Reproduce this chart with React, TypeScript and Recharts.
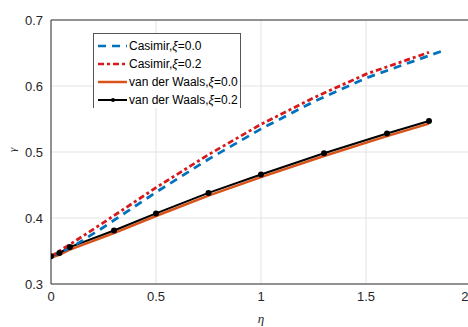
import { CartesianGrid, Line, LineChart, ReferenceLine, XAxis, YAxis } from "recharts";

const ETA_CAS = [0, 0.1, 0.25, 0.5, 0.75, 1.0, 1.25, 1.5, 1.8];
const CAS_XI0 = [0.342, 0.356, 0.386, 0.439, 0.489, 0.535, 0.576, 0.612, 0.646];
const CAS_XI2 = [0.342, 0.362, 0.393, 0.446, 0.496, 0.542, 0.582, 0.618, 0.651];
const CAS_XI0_TAIL = { eta: 1.88, value: 0.655 };

const ETA_VDW = [0, 0.04, 0.09, 0.3, 0.5, 0.75, 1.0, 1.3, 1.6, 1.8];
const VDW_XI0 = [0.34, 0.344, 0.352, 0.377, 0.403, 0.434, 0.462, 0.494, 0.524, 0.543];
const VDW_XI2 = [0.342, 0.347, 0.356, 0.381, 0.407, 0.438, 0.466, 0.498, 0.528, 0.547];

const X_TICKS = [0, 0.5, 1, 1.5, 2];
const Y_TICKS = [0.3, 0.4, 0.5, 0.6, 0.7];

const cas0 = [
  ...ETA_CAS.map((eta, i) => ({ eta, value: CAS_XI0[i] })),
  CAS_XI0_TAIL,
];
const cas2 = ETA_CAS.map((eta, i) => ({ eta, value: CAS_XI2[i] }));
const vdw0 = ETA_VDW.map((eta, i) => ({ eta, value: VDW_XI0[i] }));
const vdw2 = ETA_VDW.map((eta, i) => ({ eta, value: VDW_XI2[i] }));

const LEGEND = [
  { name: "Casimir,", xi: "0.0", color: "#0072BD", dash: "8 6" },
  { name: "Casimir,", xi: "0.2", color: "#D7191C", dash: "6 3 3 3" },
  { name: "van der Waals,", xi: "0.0", color: "#D95319", dash: undefined },
  { name: "van der Waals,", xi: "0.2", color: "#000000", dash: undefined, dot: true },
];

function LegendBox() {
  return (
    <div
      style={{
        position: "absolute",
        left: 93,
        top: 33,
        width: 148,
        height: 75,
        borderTop: "1px solid #555",
        borderLeft: "1px solid #555",
        borderRight: "1px solid #555",
        background: "#fff",
        boxSizing: "border-box",
        paddingTop: 3,
        fontFamily: "Liberation Sans, Arial, sans-serif",
        fontSize: 12,
        color: "#000",
      }}
    >
      {LEGEND.map((item, i) => (
        <div key={i} style={{ display: "flex", alignItems: "center", height: 18 }}>
          <svg width={32} height={10} style={{ marginLeft: 3 }}>
            <line
              x1={1}
              y1={5}
              x2={30}
              y2={5}
              stroke={item.color}
              strokeWidth={item.dot ? 2 : 2.5}
              strokeDasharray={item.dash}
            />
            {item.dot && <circle cx={16} cy={5} r={2} fill="#000" />}
          </svg>
          <span>
            {item.name}
            <i>ξ</i>={item.xi}
          </span>
        </div>
      ))}
    </div>
  );
}

export default function App() {
  return (
    <div style={{ position: "absolute", left: 0, top: 0, width: 468, height: 327, background: "#fff" }}>
      <LineChart
        width={468}
        height={327}
        margin={{ top: 20, right: -3, bottom: 0, left: 0 }}
      >
        <CartesianGrid stroke="#e3e3e3" strokeWidth={1} />
        <XAxis
          type="number"
          dataKey="eta"
          domain={[0, 2]}
          ticks={X_TICKS}
          allowDataOverflow
          height={43}
          tickLine={false}
          axisLine={{ stroke: "#333" }}
          tick={{ fill: "#262626", fontSize: 13, fontFamily: "Liberation Sans, Arial" }}
          tickFormatter={(v: number) => String(v)}
          label={{
            value: "η",
            position: "insideBottom",
            offset: 4,
            fill: "#262626",
            fontSize: 13,
            fontStyle: "italic",
            fontFamily: "Liberation Serif, serif",
          }}
        />
        <YAxis
          type="number"
          dataKey="value"
          domain={[0.3, 0.7]}
          ticks={Y_TICKS}
          width={51}
          tickLine={false}
          axisLine={{ stroke: "#333" }}
          tick={{ fill: "#262626", fontSize: 13, fontFamily: "Liberation Sans, Arial" }}
          tickFormatter={(v: number) => v.toFixed(1)}
          label={{
            value: "γ",
            angle: -90,
            position: "insideLeft",
            offset: 12,
            fill: "#262626",
            fontSize: 11,
            fontStyle: "italic",
            fontFamily: "Liberation Serif, serif",
          }}
        />
        <ReferenceLine y={0.7} stroke="#333" />
        <Line
          data={vdw0}
          dataKey="value"
          stroke="#D95319"
          strokeWidth={2.5}
          dot={false}
          isAnimationActive={false}
        />
        <Line
          data={vdw2}
          dataKey="value"
          stroke="#000"
          strokeWidth={2}
          dot={{ r: 2, fill: "#000", stroke: "#000" }}
          isAnimationActive={false}
        />
        <Line
          data={cas0}
          dataKey="value"
          stroke="#0072BD"
          strokeWidth={2.8}
          strokeDasharray="8 6"
          dot={false}
          isAnimationActive={false}
        />
        <Line
          data={cas2}
          dataKey="value"
          stroke="#D7191C"
          strokeWidth={2.8}
          strokeDasharray="6 3 3 3"
          dot={false}
          isAnimationActive={false}
        />
      </LineChart>
      <LegendBox />
    </div>
  );
}
